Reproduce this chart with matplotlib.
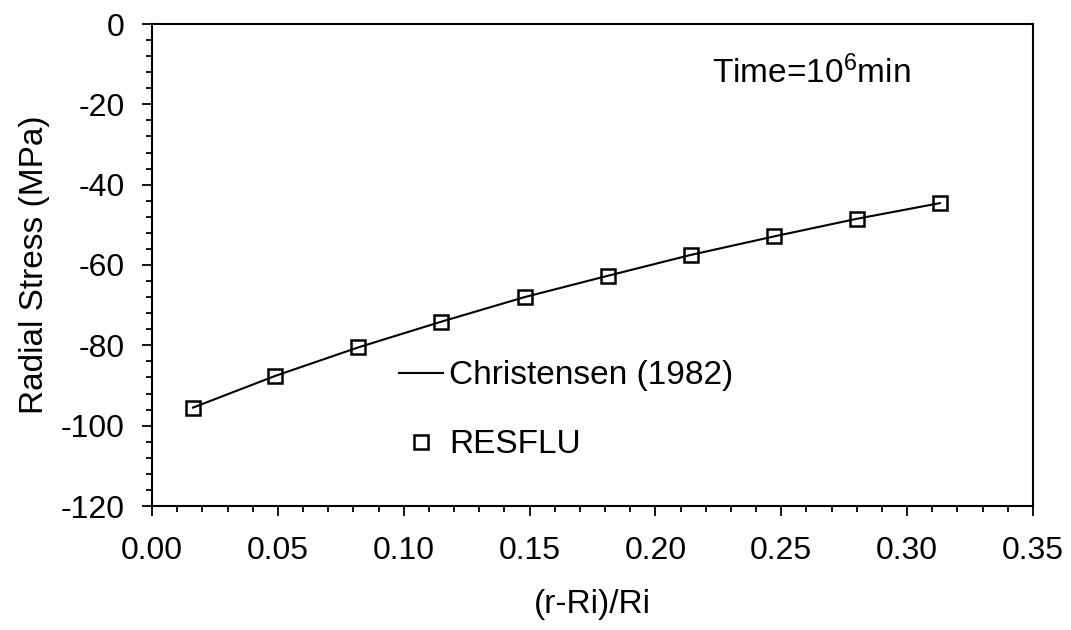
import numpy as np
import matplotlib
matplotlib.use('Agg')
import matplotlib.pyplot as plt
from matplotlib.ticker import MultipleLocator, FormatStrFormatter

plt.rcParams['font.family'] = ['Liberation Sans', 'DejaVu Sans']
plt.rcParams['mathtext.default'] = 'regular'
plt.rcParams['axes.unicode_minus'] = False

# Données
r_rel = [0.0163, 0.049, 0.082, 0.115, 0.148, 0.181, 0.214, 0.247, 0.280, 0.313]
christensen = [-95.5, -87.6, -80.5, -74.1, -68.0, -62.7, -57.5, -52.9, -48.5, -44.6]
resflu = [-95.5, -87.6, -80.5, -74.1, -68.0, -62.7, -57.5, -52.9, -48.5, -44.6]

fig = plt.figure(figsize=(10.71, 6.30), dpi=100)
ax = fig.add_axes([152 / 1071, 1 - 506 / 630, 881 / 1071, 482 / 630])

ax.plot(r_rel, christensen, color='black', lw=1.5, label='Christensen (1982)')
ax.plot(r_rel, resflu, ls='none', marker='s', ms=10, mfc='none', mec='black',
        mew=1.8, label='RESFLU')

ax.set_xlim(0, 0.35)
ax.set_ylim(-120, 0)
ax.xaxis.set_major_locator(MultipleLocator(0.05))
ax.xaxis.set_minor_locator(MultipleLocator(0.01))
ax.yaxis.set_major_locator(MultipleLocator(20))
ax.yaxis.set_minor_locator(MultipleLocator(4))
ax.xaxis.set_major_formatter(FormatStrFormatter('%.2f'))

for s in ax.spines.values():
    s.set_linewidth(1.5)
ax.tick_params(which='major', direction='out', length=7.5, width=1.3, labelsize=23)
ax.tick_params(which='minor', direction='out', length=4, width=1.3)
ax.tick_params(axis='x', which='major', pad=14)
ax.tick_params(axis='y', which='major', pad=12)

ax.set_xlabel('(r-Ri)/Ri', fontsize=24, labelpad=17)
ax.set_ylabel('Radial Stress (MPa)', fontsize=24, labelpad=8)

ax.text(0.636, 0.878, 'Time=10$^6$min', transform=ax.transAxes, fontsize=24,
        va='baseline', ha='left')

ax.legend(loc='upper left', bbox_to_anchor=(0.28, 0.3025), frameon=False,
          fontsize=24, handlelength=1.32, handletextpad=0.2, labelspacing=1.14,
          borderpad=0, borderaxespad=0, markerscale=0.95)

fig.savefig('out.png', dpi=100)
